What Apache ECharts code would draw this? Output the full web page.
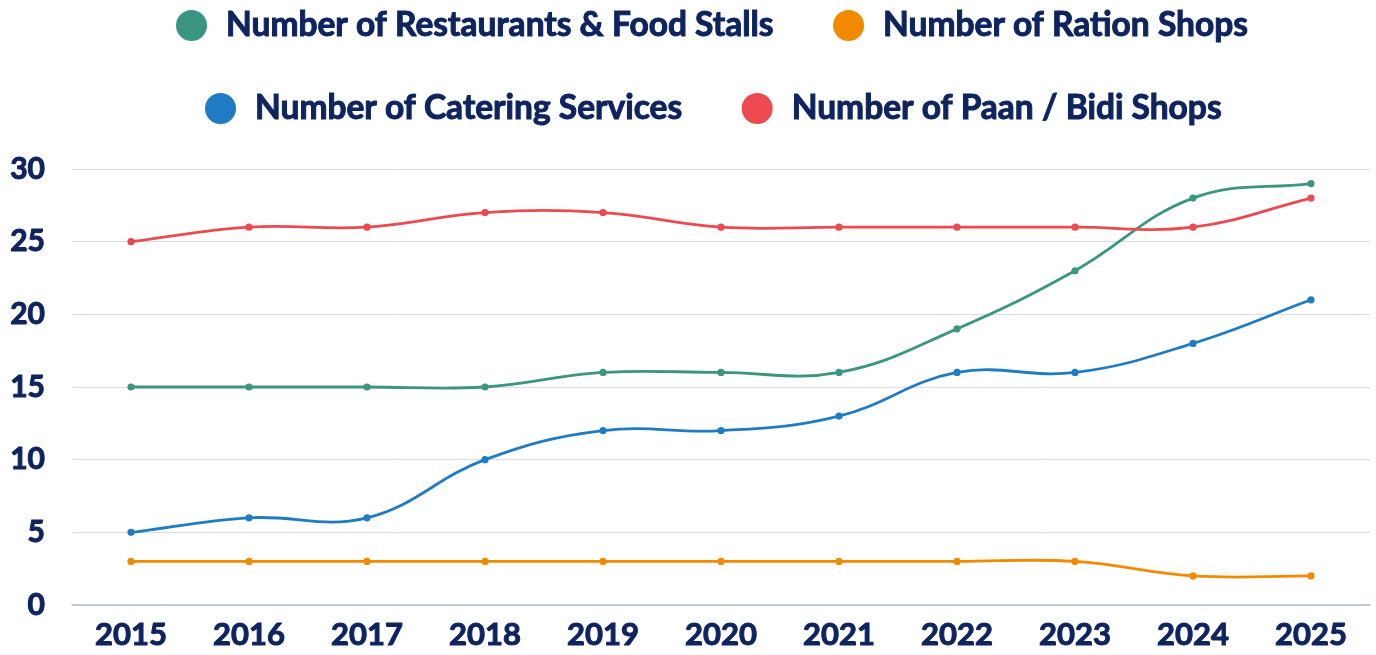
<!DOCTYPE html>
<html>
<head>
<meta charset="utf-8">
<script src="https://cdn.jsdelivr.net/npm/echarts@6/dist/echarts.min.js"></script>
<style>
  html, body { margin: 0; padding: 0; background: #fff; }
  #chart { width: 1376px; height: 655px; }
</style>
</head>
<body>
<div id="chart"></div>
<script>
// categories and series
const years = ['2015', '2016', '2017', '2018', '2019', '2020', '2021', '2022', '2023', '2024', '2025'];
const restaurants = [15, 15, 15, 15, 16, 16, 16, 19, 23, 28, 29];
const rationShops = [3, 3, 3, 3, 3, 3, 3, 3, 3, 2, 2];
const catering = [5, 6, 6, 10, 12, 12, 13, 16, 16, 18, 21];
const paanShops = [25, 26, 26, 27, 27, 26, 26, 26, 26, 26, 28];

const navy = '#0e2461';
const font = 'Lato';
const tension = 0.4;

// bezier control points around cur (cardinal style, like the source chart)
function ctrl(prev, cur, next) {
  const d01 = Math.hypot(cur[0] - prev[0], cur[1] - prev[1]);
  const d12 = Math.hypot(next[0] - cur[0], next[1] - cur[1]);
  let s01 = d01 / (d01 + d12);
  let s12 = d12 / (d01 + d12);
  if (isNaN(s01)) s01 = 0;
  if (isNaN(s12)) s12 = 0;
  const fa = tension * s01, fb = tension * s12;
  return {
    before: [cur[0] - fa * (next[0] - prev[0]), cur[1] - fa * (next[1] - prev[1])],
    after: [cur[0] + fb * (next[0] - prev[0]), cur[1] + fb * (next[1] - prev[1])]
  };
}

function curve(name, vals, color) {
  return {
    name: name,
    type: 'custom',
    color: color,
    itemStyle: { color: color },
    data: vals.map((v, i) => [i, v]),
    encode: { x: 0, y: 1 },
    renderItem: function (params, api) {
      const i = params.dataIndex;
      const n = vals.length;
      const pt = k => api.coord([k, vals[Math.min(Math.max(k, 0), n - 1)]]);
      const p0 = pt(Math.max(i - 1, 0)), p1 = pt(i);
      const children = [];
      if (i < n - 1) {
        const p2 = pt(i + 1), p3 = pt(Math.min(i + 2, n - 1));
        const c1 = ctrl(p0, p1, p2).after;
        const c2 = ctrl(p1, p2, p3).before;
        children.push({
          type: 'bezierCurve',
          shape: { x1: p1[0], y1: p1[1], x2: p2[0], y2: p2[1],
                   cpx1: c1[0], cpy1: c1[1], cpx2: c2[0], cpy2: c2[1] },
          style: { stroke: color, lineWidth: 2.8, fill: null }
        });
      }
      children.push({
        type: 'circle',
        shape: { cx: p1[0], cy: p1[1], r: 3.6 },
        style: { fill: color }
      });
      return { type: 'group', children: children };
    }
  };
}

// heavy text: bold face plus a thin stroke of the same colour
const heavyText = {
  color: navy,
  fontFamily: font,
  fontWeight: 'bold',
  textBorderColor: navy,
  textBorderWidth: 1
};

const legendBase = {
  icon: 'circle',
  itemWidth: 31,
  itemHeight: 31,
  itemGap: 59,
  textStyle: Object.assign({}, heavyText, { fontSize: 33.5, padding: [0, 0, 0, 14] })
};

const myChart = echarts.init(document.getElementById('chart'));
const option = {
  animation: false,
  legend: [
    Object.assign({}, legendBase, {
      left: 171, top: 3,
      data: ['Number of Restaurants & Food Stalls', 'Number of Ration Shops']
    }),
    Object.assign({}, legendBase, {
      left: 200, top: 86,
      data: ['Number of Catering Services', 'Number of Paan / Bidi Shops']
    })
  ],
  grid: { left: 72, right: 6, top: 169, bottom: 50 },
  xAxis: {
    type: 'category',
    data: years,
    axisTick: { show: false },
    axisLine: { lineStyle: { color: '#b4bccf', width: 1.5 } },
    axisLabel: Object.assign({}, heavyText, { fontSize: 31, margin: 14 })
  },
  yAxis: {
    type: 'value',
    min: 0,
    max: 30,
    interval: 5,
    axisLine: { show: false },
    axisTick: { show: false },
    splitLine: { lineStyle: { color: '#d9dce6', width: 1 } },
    axisLabel: Object.assign({}, heavyText, { fontSize: 30, margin: 27 })
  },
  series: [
    curve('Number of Restaurants & Food Stalls', restaurants, '#3a9680'),
    curve('Number of Ration Shops', rationShops, '#f18a00'),
    curve('Number of Catering Services', catering, '#1f7bc4'),
    curve('Number of Paan / Bidi Shops', paanShops, '#ec4a50')
  ]
};
myChart.setOption(option);
</script>
</body>
</html>
